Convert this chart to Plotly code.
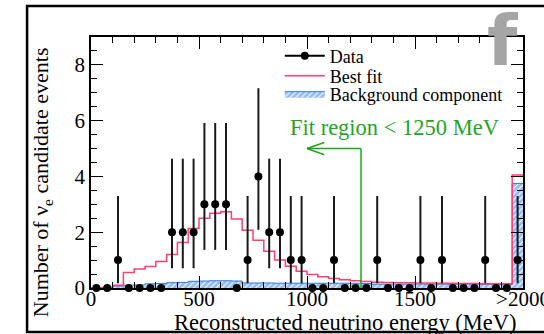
import plotly.graph_objects as go

# ---------------- data ----------------
bin_width = 50  # MeV, last bin is the overflow ">2000"
bin_edges = list(range(0, 2001, bin_width))
bin_centers = [e + bin_width / 2 for e in bin_edges[:-1]]

data_counts = [0, 0, 1, 0, 0, 0, 0, 2, 2, 2,
               3, 3, 3, 0, 1, 4, 2, 2, 1, 1,
               0, 0, 1, 0, 0, 0, 1, 0, 0, 0,
               1, 0, 1, 0, 0, 0, 1, 0, 0, 1]

best_fit = [0.01, 0.02, 0.10, 0.56, 0.68, 0.77, 0.95, 1.20, 1.63, 2.13,
            2.50, 2.68, 2.73, 2.47, 2.07, 1.71, 1.32, 1.00, 0.78, 0.60,
            0.48, 0.40, 0.34, 0.30, 0.26, 0.23, 0.21, 0.20, 0.19, 0.19,
            0.18, 0.18, 0.17, 0.17, 0.16, 0.16, 0.15, 0.15, 0.15, 4.05]

background = [0.00, 0.00, 0.07, 0.10, 0.11, 0.15, 0.16, 0.19, 0.20, 0.24,
              0.25, 0.26, 0.26, 0.25, 0.18, 0.18, 0.18, 0.17, 0.17, 0.17,
              0.17, 0.17, 0.17, 0.17, 0.17, 0.16, 0.14, 0.14, 0.14, 0.14,
              0.14, 0.14, 0.14, 0.14, 0.14, 0.14, 0.13, 0.13, 0.13, 3.75]

# 68% Poisson (Garwood) intervals for small counts: n -> (low, high)
poisson_interval = {0: (0.0, 0.0), 1: (0.173, 3.300), 2: (0.708, 4.638),
                    3: (1.367, 5.918), 4: (2.086, 7.163)}

x_tick_vals = [0, 500, 1000, 1500, 2000]
x_tick_text = ["0", "500", "1000", "1500", ">2000"]
y_tick_vals = [0, 2, 4, 6, 8]

fit_limit = 1250
arrow_end = 1000
arrow_level = 5

err_up = [poisson_interval[n][1] - n if n > 0 else 0 for n in data_counts]
err_dn = [n - poisson_interval[n][0] if n > 0 else 0 for n in data_counts]

SERIF = "Liberation Serif"
GREEN = "#1fa51f"
BLUE = "#2a7ae0"
PINK = "#ff3f70"

fig = go.Figure()

# background component (hatched)
fig.add_trace(go.Scatter(
    x=bin_edges, y=background + [background[-1]],
    mode="lines", line=dict(shape="hv", color=BLUE, width=1),
    fill="tozeroy", fillcolor="white",
    fillpattern=dict(shape="/", fgcolor=BLUE, bgcolor="white", size=4, solidity=0.75),
    name="Background component", legend="legend3", hoverinfo="skip"))

# best fit
fig.add_trace(go.Scatter(
    x=bin_edges, y=best_fit + [best_fit[-1]],
    mode="lines", line=dict(shape="hv", color=PINK, width=1.5),
    name="Best fit", legend="legend2"))

# data points with Poisson error bars
fig.add_trace(go.Scatter(
    x=bin_centers, y=data_counts, mode="markers",
    marker=dict(color="black", size=8),
    error_y=dict(type="data", symmetric=False, array=err_up, arrayminus=err_dn,
                 color="#1a1a1a", thickness=2, width=0),
    cliponaxis=False, showlegend=False, name="Data"))

# legend entry for data (line through marker)
fig.add_trace(go.Scatter(
    x=[None], y=[None], mode="lines+markers",
    line=dict(color="black", width=2), marker=dict(color="black", size=8),
    name="Data", legend="legend"))

axis_common = dict(
    showline=True, linecolor="black", linewidth=1.5, mirror="allticks",
    ticks="inside", ticklen=12, tickwidth=1.2, tickcolor="black",
    showgrid=False, zeroline=False, automargin=False,
    tickfont=dict(family=SERIF, size=21, color="black"),
)


def legend_box(ypix):
    return dict(x=0.437, y=(288 - ypix) / 251, xanchor="left", yanchor="middle",
                bgcolor="rgba(0,0,0,0)", borderwidth=0,
                font=dict(family=SERIF, size=18, color="black"), itemwidth=40)


fig.update_layout(
    width=544, height=334,
    margin=dict(l=91, r=21, t=37, b=46, autoexpand=False),
    paper_bgcolor="white", plot_bgcolor="white",
    font=dict(family=SERIF, color="black"),
    showlegend=True,
    legend=legend_box(56),
    legend2=legend_box(76),
    legend3=legend_box(94),
    xaxis=dict(range=[0, 2000], tickvals=x_tick_vals, ticktext=x_tick_text,
               ticklabelstandoff=-9, ticklabeloverflow="allow",
               minor=dict(ticks="inside", dtick=100, ticklen=6, tickcolor="black", showgrid=False),
               **axis_common),
    yaxis=dict(range=[0, 9], tickvals=y_tick_vals,
               minor=dict(ticks="inside", dtick=0.5, ticklen=6, tickcolor="black", showgrid=False),
               **axis_common),
)

# fit-region marker
fig.add_shape(type="line", x0=fit_limit, x1=fit_limit, y0=0, y1=arrow_level,
              xref="x", yref="y", line=dict(color=GREEN, width=1.5))
fig.add_shape(type="line", x0=arrow_end, x1=fit_limit, y0=arrow_level, y1=arrow_level,
              xref="x", yref="y", line=dict(color=GREEN, width=1.5))
fig.add_shape(type="line", x0=arrow_end, x1=arrow_end + 80, y0=arrow_level, y1=arrow_level + 0.22,
              xref="x", yref="y", line=dict(color=GREEN, width=1.5))
fig.add_shape(type="line", x0=arrow_end, x1=arrow_end + 80, y0=arrow_level, y1=arrow_level - 0.22,
              xref="x", yref="y", line=dict(color=GREEN, width=1.5))
fig.add_annotation(text="Fit region &lt; 1250 MeV", x=1407, y=5.74, xref="x", yref="y",
                   showarrow=False, xanchor="center", yanchor="middle",
                   font=dict(family=SERIF, size=22.5, color=GREEN))

# axis titles
fig.add_annotation(text="Reconstructed neutrino energy (MeV)", x=0.59, y=-0.139,
                   xref="paper", yref="paper", showarrow=False,
                   xanchor="center", yanchor="middle",
                   font=dict(family=SERIF, size=22.5, color="black"))
fig.add_annotation(text="Number of \u03bd<sub>e</sub> candidate events", x=-0.113, y=0.422,
                   xref="paper", yref="paper", showarrow=False, textangle=-90,
                   xanchor="center", yanchor="middle",
                   font=dict(family=SERIF, size=22, color="black"))

# panel letter
fig.add_annotation(text="<b>f</b>", x=0.954, y=0.985, xref="paper", yref="paper",
                   showarrow=False, xanchor="center", yanchor="middle",
                   font=dict(family="DejaVu Sans", size=70, color="#a5a5a5"))

# outer frame
fig.add_shape(type="rect", xref="paper", yref="paper",
              x0=-0.148, x1=1.07, y0=-0.1753, y1=1.1235,
              line=dict(color="black", width=2.5), fillcolor="rgba(0,0,0,0)", layer="above")

fig.write_html("out.html")
